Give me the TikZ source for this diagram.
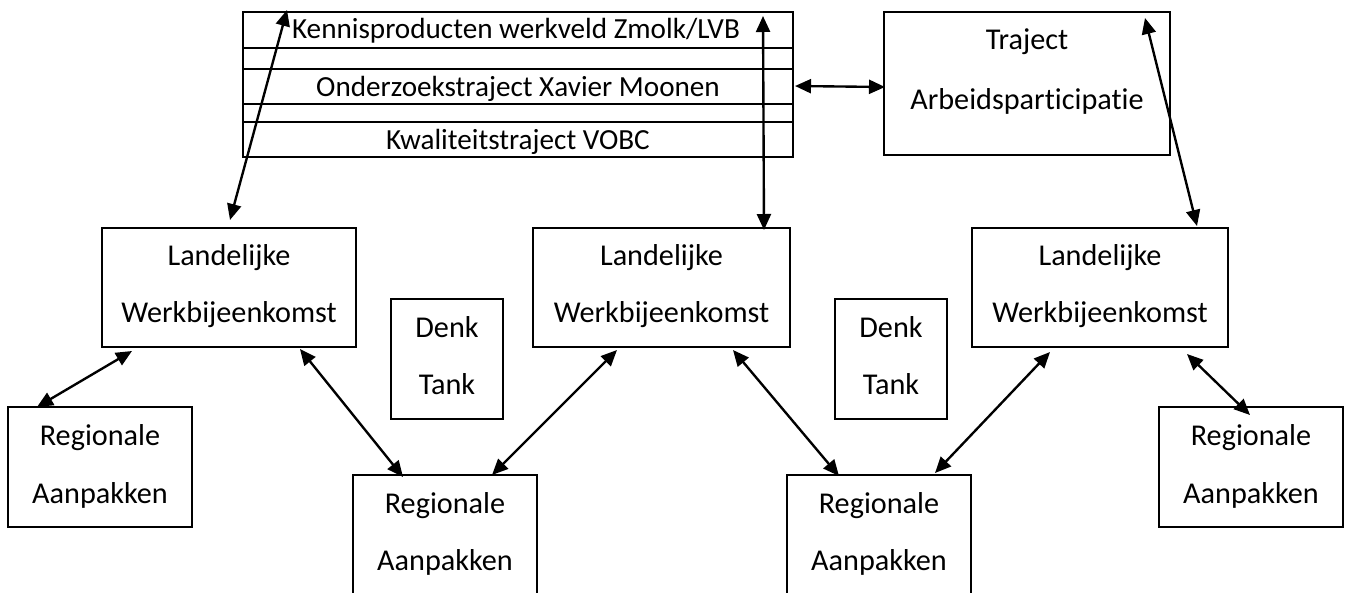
\documentclass[tikz,border=0pt]{standalone}
\usepackage{fontspec}
\setmainfont[Ligatures=NoCommon]{Carlito}
\usetikzlibrary{arrows.meta}
\begin{document}
\begin{tikzpicture}[x=0.02cm,y=-0.02cm,
  box/.style={draw, line width=0.75pt, inner sep=0pt},
  lbl/.style={anchor=base, inner sep=0pt, font=\fontsize{17.2}{20}\selectfont},
  slbl/.style={anchor=base, inner sep=0pt, font=\fontsize{16.6}{20}\selectfont},
  rowline/.style={line width=1.1pt},
  link/.style={line width=1.35pt, {Triangle[length=0.32cm,width=0.28cm]}-{Triangle[length=0.32cm,width=0.28cm]}}]
\useasboundingbox (0,0) rectangle (1346,592);

% top stack
\node[box, line width=1.1pt, minimum width=11cm, minimum height=2.9cm] (stack) at (518,84.5) {};
\draw[rowline] (243,48) -- (793,48);
\draw[rowline] (243,69) -- (793,69);
\draw[rowline] (243,104) -- (793,104);
\draw[rowline] (243,122) -- (793,122);
\node[slbl] (s1) at (516,38) {Kennisproducten werkveld Zmolk/LVB};
\node[slbl] (s2) at (518,96) {Onderzoekstraject Xavier Moonen};
\node[slbl] (s3) at (518,149) {Kwaliteitstraject VOBC};

% traject
\node[box, minimum width=5.72cm, minimum height=2.86cm] (traj) at (1027,83.5) {};
\node[lbl] (t1) at (1027,49) {Traject};
\node[lbl] (t2) at (1027,109) {Arbeidsparticipatie};

% landelijke
\node[box, minimum width=5.08cm, minimum height=2.38cm] (land1) at (229,287.5) {};
\node[lbl] (l1a) at (229,265) {Landelijke};
\node[lbl] (l1b) at (229,322) {Werkbijeenkomst};
\node[box, minimum width=5.14cm, minimum height=2.38cm] (land2) at (661.5,287.5) {};
\node[lbl] (l2a) at (661.5,265) {Landelijke};
\node[lbl] (l2b) at (661.5,322) {Werkbijeenkomst};
\node[box, minimum width=5.12cm, minimum height=2.38cm] (land3) at (1100,287.5) {};
\node[lbl] (l3a) at (1100,265) {Landelijke};
\node[lbl] (l3b) at (1100,322) {Werkbijeenkomst};

% denk tank
\node[box, minimum width=2.24cm, minimum height=2.4cm] (denk1) at (447,359) {};
\node[lbl] (d1a) at (447,337) {Denk};
\node[lbl] (d1b) at (447,394) {Tank};
\node[box, minimum width=2.24cm, minimum height=2.4cm] (denk2) at (891,359) {};
\node[lbl] (d2a) at (891,337) {Denk};
\node[lbl] (d2b) at (891,394) {Tank};

% regionale
\node[box, minimum width=3.68cm, minimum height=2.4cm] (reg1) at (100,467) {};
\node[lbl] (r1a) at (100,445) {Regionale};
\node[lbl] (r1b) at (100,503) {Aanpakken};
\node[box, minimum width=3.68cm, minimum height=2.5cm] (reg2) at (445,537.5) {};
\node[lbl] (r2a) at (445,513) {Regionale};
\node[lbl] (r2b) at (445,570) {Aanpakken};
\node[box, minimum width=3.68cm, minimum height=2.5cm] (reg3) at (879,537.5) {};
\node[lbl] (r3a) at (879,513) {Regionale};
\node[lbl] (r3b) at (879,570) {Aanpakken};
\node[box, minimum width=3.68cm, minimum height=2.4cm] (reg4) at (1251,467) {};
\node[lbl] (r4a) at (1251,445) {Regionale};
\node[lbl] (r4b) at (1251,503) {Aanpakken};

% arrow end points
\coordinate (a1s) at (230,220); \coordinate (a1e) at (287,10);
\coordinate (a2s) at (764,230); \coordinate (a2e) at (763,16);
\coordinate (a3s) at (795,86);  \coordinate (a3e) at (885,87);
\coordinate (a4s) at (1197,226); \coordinate (a4e) at (1145,18);
\coordinate (a5s) at (37,407);  \coordinate (a5e) at (132,351);
\coordinate (a6s) at (300,349); \coordinate (a6e) at (403,477);
\coordinate (a7s) at (617,350); \coordinate (a7e) at (492,475);
\coordinate (a8s) at (733,350); \coordinate (a8e) at (839,476);
\coordinate (a9s) at (1050,352); \coordinate (a9e) at (935,473);
\coordinate (a10s) at (1187,354); \coordinate (a10e) at (1250,415);

\draw[link] (a1s) -- (a1e);
\draw[link] (a2s) -- (a2e);
\draw[link] (a3s) -- (a3e);
\draw[link] (a4s) -- (a4e);
\draw[link] (a5s) -- (a5e);
\draw[link] (a6s) -- (a6e);
\draw[link] (a7s) -- (a7e);
\draw[link] (a8s) -- (a8e);
\draw[link] (a9s) -- (a9e);
\draw[link] (a10s) -- (a10e);
\end{tikzpicture}
\end{document}
